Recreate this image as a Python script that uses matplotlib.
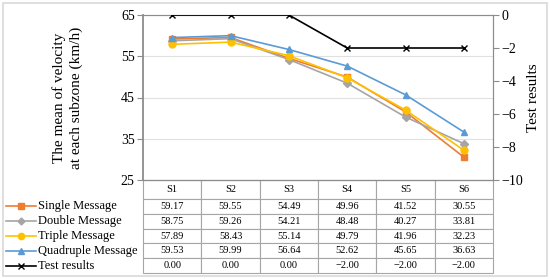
import matplotlib.pyplot as plt
from matplotlib.lines import Line2D
from matplotlib.patches import Rectangle

plt.rcParams['font.family'] = ['Liberation Serif', 'DejaVu Serif']

zones = ["S1", "S2", "S3", "S4", "S5", "S6"]
single = [59.17, 59.55, 54.49, 49.96, 41.52, 30.55]
double = [58.75, 59.26, 54.21, 48.48, 40.27, 33.81]
triple = [57.89, 58.43, 55.14, 49.79, 41.96, 32.23]
quadruple = [59.53, 59.99, 56.64, 52.62, 45.65, 36.63]
test = [0.0, 0.0, 0.0, -2.0, -2.0, -2.0]

series = [
    ("Single Message", single, "#ED7D31", "s"),
    ("Double Message", double, "#A5A5A5", "D"),
    ("Triple Message", triple, "#FFC000", "o"),
    ("Quadruple Message", quadruple, "#5B9BD5", "^"),
]

def msize(mk):
    return 4.0 if mk == "D" else 5.0

fig = plt.figure(figsize=(5.5, 2.79), dpi=100)
fig.patches.append(Rectangle((0.006, 0.01), 0.988, 0.98, transform=fig.transFigure,
                             fill=False, edgecolor="#d9d9d9", linewidth=1.2))

ax = fig.add_axes([143 / 550, 1 - 180 / 279, 350 / 550, 165 / 279])
x = range(len(zones))
for name, vals, col, mk in series:
    ax.plot(x, vals, color=col, marker=mk, markersize=msize(mk), linewidth=1.2, zorder=3)
ax.set_xlim(-0.5, len(zones) - 0.5)
ax.set_ylim(25, 65)
ax.set_yticks([25, 35, 45, 55, 65])
ax.set_xticks([])
ax.grid(axis="y", color="#e0e0e0", linewidth=0.8)
for s in ["left", "right", "top", "bottom"]:
    ax.spines[s].set_color("#8c8c8c")
ax.spines["left"].set_linewidth(1.3)
ax.spines["top"].set_color("#b0b0b0")
ax.tick_params(axis="y", labelsize=10, length=4, width=0.8, color="#8c8c8c", pad=2)
ax.set_ylabel("The mean of velocity\nat each subzone (km/h)", fontsize=11, labelpad=27,
              linespacing=1.35)

ax2 = ax.twinx()
ax2.plot(x, test, color="black", marker="x", markersize=5, linewidth=1.2, zorder=4)
ax2.set_ylim(-10, 0)
ax2.set_yticks([0, -2, -4, -6, -8, -10])
ax2.set_yticklabels(["0", "\u22122", "\u22124", "\u22126", "\u22128", "\u221210"])
ax2.tick_params(axis="y", labelsize=10, length=4, width=0.8, color="#8c8c8c", pad=2)
for s in ["left", "right", "top", "bottom"]:
    ax2.spines[s].set_color("#8c8c8c")
ax2.spines["left"].set_visible(False)
ax2.set_ylabel("Test results", fontsize=11, labelpad=3)

# table under the plot
def fmt(v):
    return ("%.2f" % v).replace("-", "\u2212")

rows = [[fmt(v) for v in vals] for _, vals, _, _ in series]
rows.append([fmt(v) for v in test])
head_h = 19
row_h = 14.8
tab_h = head_h + 5 * row_h
tab = ax.table(cellText=rows, colLabels=zones, cellLoc="center",
               bbox=[0, -tab_h / 165, 1, tab_h / 165])
tab.auto_set_font_size(False)
tab.set_fontsize(7.5)
for (r, c), cell in tab.get_celld().items():
    cell.set_edgecolor("#a6a6a6")
    cell.set_linewidth(0.8)
    cell.set_height((head_h if r == 0 else row_h) / 1000)

# legend keys to the left of the table
names = [s[0] for s in series] + ["Test results"]
cols = [s[2] for s in series] + ["black"]
mks = [s[3] for s in series] + ["x"]
for i, (nm, col, mk) in enumerate(zip(names, cols, mks)):
    yc = 1 - (180 + head_h + row_h * (i + 0.5)) / 279
    fig.add_artist(Line2D([6 / 550, 36 / 550], [yc, yc], color=col, linewidth=1.2,
                          transform=fig.transFigure))
    fig.add_artist(Line2D([21 / 550], [yc], color=col, marker=mk,
                          markersize=msize(mk) - 0.5, transform=fig.transFigure))
    fig.text(38 / 550, yc, nm, fontsize=9, va="center", ha="left")

fig.savefig("out.png", dpi=100)
